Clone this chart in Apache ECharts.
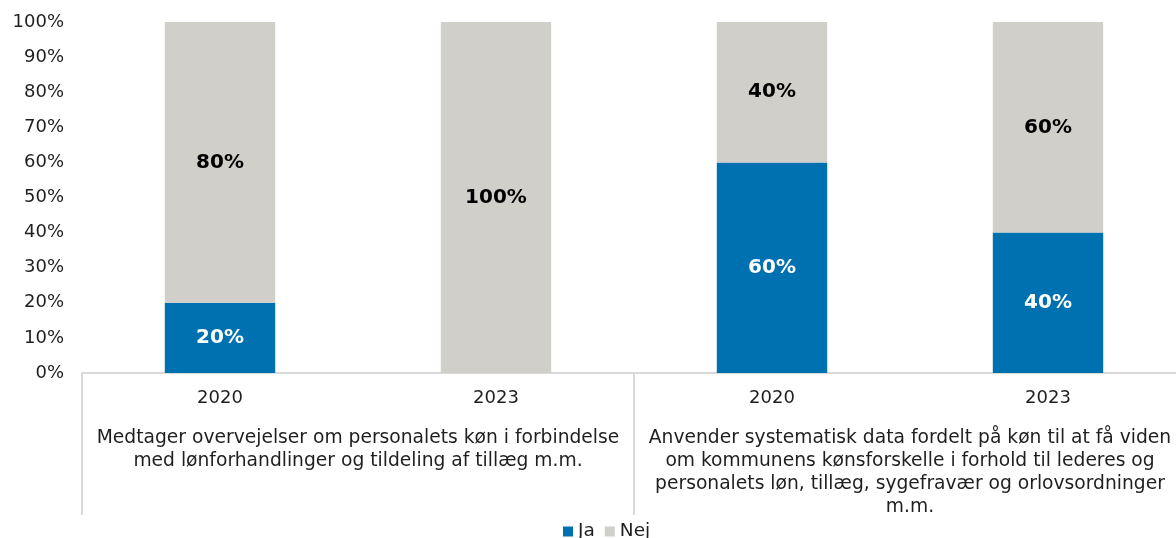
<!DOCTYPE html>
<html>
<head>
<meta charset="utf-8">
<script src="https://cdn.jsdelivr.net/npm/echarts@6/dist/echarts.min.js"></script>
<style>html,body{margin:0;padding:0;background:#fff}#c{width:1176px;height:538px}</style>
</head>
<body>
<div id="c"></div>
<script>
const years = ['2020', '2023', '2020', '2023'];
const groups = [
  'Medtager overvejelser om personalets køn i forbindelse\nmed lønforhandlinger og tildeling af tillæg m.m.',
  'Anvender systematisk data fordelt på køn til at få viden\nom kommunens kønsforskelle i forhold til lederes og\npersonalets løn, tillæg, sygefravær og orlovsordninger\nm.m.'
];
const ja = [20, 0, 60, 40];
const nej = [80, 100, 40, 60];
const yTicks = [0, 10, 20, 30, 40, 50, 60, 70, 80, 90, 100];

const FONT = 'DejaVu Sans';
const chart = echarts.init(document.getElementById('c'));
const lbl = (color) => ({
  show: true, position: 'inside', color: color, fontFamily: FONT, fontSize: 20, fontWeight: 'bold',
  formatter: p => p.value > 0 ? p.value + '%' : ''
});
chart.setOption({
  animation: false,
  textStyle: { fontFamily: FONT },
  grid: { left: 82, top: 22, width: 1104, bottom: 165, containLabel: false, outerBoundsMode: 'none' },
  legend: {
    data: ['Ja', 'Nej'], top: 517, left: 558, icon: 'rect', itemWidth: 10, itemHeight: 10, itemGap: 10,
    textStyle: { fontFamily: FONT, fontSize: 18.5, color: '#1f1f1f' }
  },
  xAxis: [
    {
      type: 'category', data: years, position: 'bottom',
      axisLine: { show: true, lineStyle: { color: '#d9d9d9', width: 2 } },
      axisTick: { show: false },
      axisLabel: { interval: 0, margin: 16, fontFamily: FONT, fontSize: 18, color: '#1f1f1f' }
    },
    {
      type: 'category', data: groups, position: 'bottom',
      axisLine: { show: false },
      axisTick: { show: true, length: 142, alignWithLabel: false, interval: 0, lineStyle: { color: '#d9d9d9', width: 2 } },
      axisLabel: { interval: 0, margin: 54, fontFamily: FONT, fontSize: 18.7, lineHeight: 23, color: '#1f1f1f', align: 'center', verticalAlign: 'top' }
    }
  ],
  yAxis: {
    type: 'value', min: 0, max: 100, interval: 10,
    axisLine: { show: false }, axisTick: { show: false }, splitLine: { show: false },
    axisLabel: { margin: 18, fontFamily: FONT, fontSize: 18, color: '#1f1f1f',
      formatter: v => yTicks.includes(v) ? v + '%' : '' }
  },
  series: [
    { name: 'Ja', type: 'bar', stack: 's', data: ja, barWidth: '40%', xAxisIndex: 0,
      itemStyle: { color: '#0071B0' }, label: lbl('#ffffff') },
    { name: 'Nej', type: 'bar', stack: 's', data: nej, barWidth: '40%', xAxisIndex: 0,
      itemStyle: { color: '#D0CFCA' }, label: lbl('#000000') }
  ]
});
</script>
</body>
</html>
